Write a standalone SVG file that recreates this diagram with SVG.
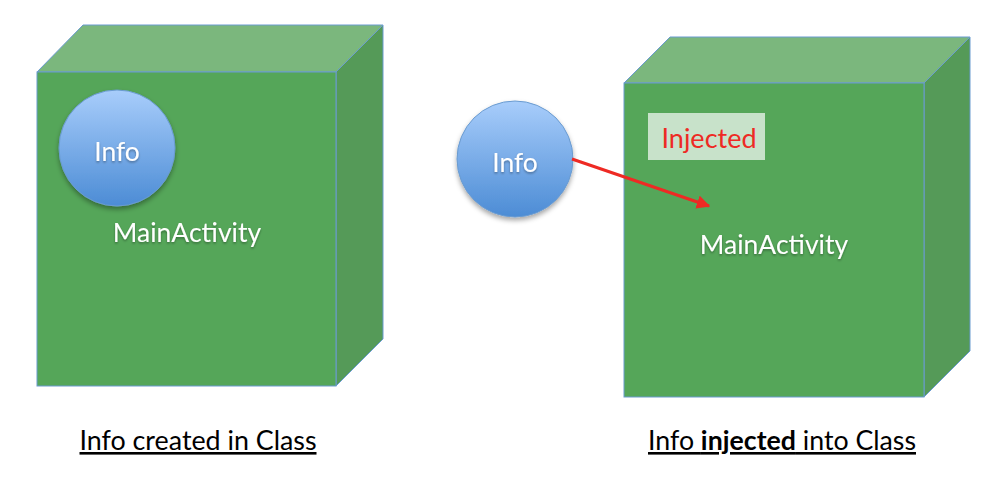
<svg xmlns="http://www.w3.org/2000/svg" width="1000" height="487" viewBox="0 0 1000 487">
<defs>
<linearGradient id="ball" x1="0" y1="0" x2="0" y2="1">
<stop offset="0" stop-color="#a8cdfb"/>
<stop offset="1" stop-color="#4c8cd5"/>
</linearGradient>
<filter id="sh" x="-20%" y="-20%" width="140%" height="150%">
<feDropShadow dx="0" dy="3" stdDeviation="2.5" flood-color="#000" flood-opacity="0.35"/>
</filter>
<filter id="tsh" x="-10%" y="-30%" width="120%" height="160%">
<feDropShadow dx="0" dy="1.5" stdDeviation="1" flood-color="#000" flood-opacity="0.35"/>
</filter>
<marker id="ah" viewBox="0 0 10 10" refX="9" refY="5" markerWidth="4.5" markerHeight="4.5" orient="auto" markerUnits="strokeWidth">
<path d="M0,0 L10,5 L0,10 z" fill="#ee2a24"/>
</marker>
<style>
.front{fill:#55a659;stroke:#6a9bd0;stroke-width:1}
.top{fill:#7bb77d;stroke:#6a9bd0;stroke-width:1}
.side{fill:#559a58;stroke:#6a9bd0;stroke-width:1}
.ball{fill:url(#ball);stroke:#6a9bd0;stroke-width:1;filter:url(#sh)}
.w{fill:#fff;font-family:Lato,"Open Sans",sans-serif;font-size:26.5px;text-anchor:middle;filter:url(#tsh)}
.cap{fill:#000;font-family:Lato,"Liberation Sans",sans-serif;font-size:26px;text-anchor:middle;text-decoration:underline}
</style>
</defs>
<g id="cube-left">
<polygon class="top" points="37,72 83,25 383,25 336,72"/>
<polygon class="side" points="336,72 383,25 383,339 336,386"/>
<rect class="front" x="37" y="72" width="299" height="314"/>
<text class="w" x="187" y="242">MainActivity</text>
</g>
<g id="info-left">
<circle class="ball" cx="117" cy="148" r="58"/>
<text class="w" x="117" y="161">Info</text>
</g>
<g id="cube-right">
<polygon class="top" points="624,83 670,37 970,37 924,83"/>
<polygon class="side" points="924,83 970,37 970,351 924,397"/>
<rect class="front" x="624" y="83" width="300" height="314"/>
<text class="w" x="774" y="254">MainActivity</text>
</g>
<g id="injected">
<rect x="648" y="113" width="117" height="47" fill="#c8e2ca"/>
<text x="709" y="148" fill="#ee2a24" font-family="Lato,'Open Sans',sans-serif" font-size="27" text-anchor="middle">Injected</text>
</g>
<g id="info-right">
<circle class="ball" cx="515" cy="159" r="58"/>
<text class="w" x="515" y="172">Info</text>
</g>
<g id="connectors">
<line x1="572" y1="159" x2="709" y2="206" stroke="#ee2a24" stroke-width="3" marker-end="url(#ah)"/>
</g>
<g id="captions">
<text class="cap" x="198" y="450" textLength="237" lengthAdjust="spacingAndGlyphs">Info created in Class</text>
<text class="cap" x="782" y="450" textLength="268" lengthAdjust="spacingAndGlyphs">Info <tspan font-weight="bold">injected</tspan> into Class</text>
</g>
</svg>
